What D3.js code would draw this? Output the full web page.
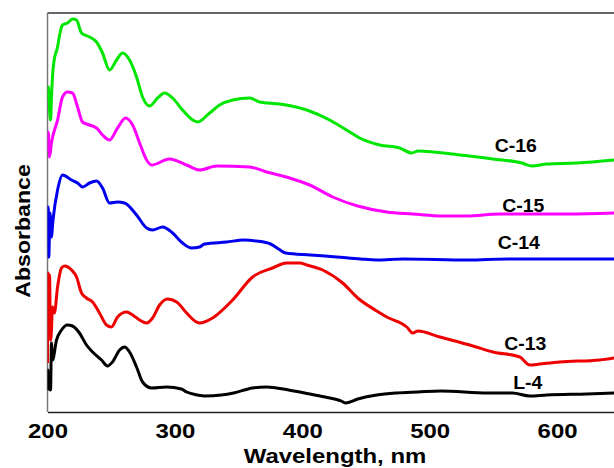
<!DOCTYPE html>
<html><head><meta charset="utf-8">
<script src="https://cdn.jsdelivr.net/npm/d3@7"></script>
<style>body{margin:0;background:#fff}svg{display:block}</style>
</head><body><svg id="c" width="614" height="468"></svg>
<script>
// ---- data ----
const xTicks = [200, 300, 400, 500, 600];
const seriesNames = ["C-16", "C-15", "C-14", "C-13", "L-4"];

const c16WL  = [200,200.8,201.6,202.4,203.2,203.9,205,207.9,209.5,211.8,215.7,219.6,222.8,226.7,233,238.5,243.2,248.7,254.2,258.9,264.4,269.9,274.6,280.1,286.4,291.9,298.2,306,313.9,317.8,327.3,335.1,345.3,358.7,366.5,382.2,403.5,421.5,437.2,445,460.8,476.5,486,490.7,523.6,549.6,572.4,580.2,592,615.6,645];
const c16Abs = [3.12,3.25,3.02,2.92,3.17,3.35,3.50,3.65,3.77,3.87,3.89,3.93,3.92,3.79,3.75,3.70,3.59,3.42,3.52,3.59,3.52,3.35,3.15,3.06,3.14,3.19,3.14,3.02,2.92,2.90,2.99,3.07,3.12,3.14,3.10,3.08,3.02,2.92,2.80,2.74,2.67,2.64,2.59,2.61,2.57,2.53,2.49,2.46,2.48,2.49,2.52];

const c15WL  = [200,200.6,201.6,203.1,207.9,211.8,215.7,219.6,223.6,227.5,233,238.5,243.2,248.7,255,261.3,266.8,272.3,277.8,281.7,295.8,309.2,319.4,332.8,358.7,372,390.1,405.8,423.9,443.5,466.3,486.7,510.3,529.1,555.1,581,607.7,645];
const c15Abs = [2.60,2.80,2.55,2.69,2.92,3.15,3.20,3.19,3.05,2.90,2.87,2.84,2.77,2.72,2.84,2.94,2.87,2.69,2.52,2.47,2.53,2.47,2.42,2.46,2.45,2.40,2.34,2.27,2.15,2.06,2.00,1.98,1.96,1.96,1.98,1.98,1.98,1.99];

const c14WL  = [200,200.5,201,202,203,204.3,207.9,211.8,218.9,223.6,227.5,233,238.5,243.2,248.7,255,260.5,269.9,277.8,282.5,290.3,298.2,306,313.1,319.4,323.3,340.6,354,364.2,375.1,381.4,386.9,406.5,426.9,445.7,458.3,479.5,530,561,645];
const c14Abs = [1.82,2.05,1.55,1.99,1.75,1.92,2.22,2.37,2.32,2.29,2.25,2.29,2.31,2.24,2.09,2.10,2.09,1.97,1.84,1.82,1.85,1.79,1.69,1.64,1.65,1.68,1.70,1.72,1.71,1.68,1.63,1.59,1.57,1.55,1.53,1.52,1.53,1.52,1.53,1.53];

const c13WL  = [200,200.4,201,201.6,202.4,203.1,203.9,205.4,207.9,211,213.4,218.9,222.8,226.7,230.6,235.4,240.8,246.3,250.2,255,262,266.8,272.3,277.8,282.5,288,294.3,301.4,309.2,317,319.4,329.6,345.3,361,376.7,387.7,398,403.5,416,431.7,443.5,458.5,466.3,482,486.7,490.7,508,534,549.6,570.8,578.6,586.4,602.1,633.5,645];
const c13Abs = [0.49,1.39,0.82,1.37,0.72,0.82,1.05,0.99,1.25,1.44,1.46,1.42,1.35,1.19,1.14,1.10,0.99,0.87,0.85,0.95,1.00,0.97,0.92,0.89,0.94,1.07,1.13,1.10,0.99,0.90,0.89,0.94,1.12,1.35,1.44,1.49,1.49,1.47,1.42,1.29,1.14,1.01,0.95,0.85,0.79,0.81,0.75,0.66,0.60,0.55,0.47,0.48,0.50,0.52,0.54];

const l4WL  = [200,200.3,200.8,202.4,203.1,203.9,207.1,211,215.7,219.6,225.1,230.6,235.4,242.4,247.1,251,256.6,260.5,264.4,269.9,274.6,281.7,293.5,305.2,309.2,317.8,323.3,336.6,346.1,361,372,389.3,402,418,430.6,433.8,443.5,458.5,474.3,490.7,508.7,545.6,565,578.6,592,623.4,645];
const l4Abs = [0.22,0.42,0.24,0.22,0.69,0.52,0.72,0.82,0.87,0.86,0.79,0.67,0.60,0.52,0.46,0.50,0.62,0.65,0.60,0.45,0.30,0.24,0.25,0.23,0.20,0.17,0.16,0.17,0.19,0.24,0.25,0.22,0.19,0.15,0.11,0.09,0.13,0.17,0.19,0.20,0.21,0.19,0.19,0.16,0.17,0.18,0.19];

// ---- layout / style ----
const colors = ["#00e600", "#ff00ff", "#0000ee", "#ee0000", "#000000"];
const labelAt = [[567.6, 2.60], [573.5, 2.00], [570, 1.63], [575.1, 0.62], [577, 0.23]];
const font = "Arial, 'Liberation Sans', sans-serif";

const svg = d3.select("#c");
const x = d3.scaleLinear().domain([200, 644.7]).range([47.5, 614]);
const y = d3.scaleLinear().domain([0, 3.99]).range([412, 13]);

const series = [
  [c16WL, c16Abs], [c15WL, c15Abs], [c14WL, c14Abs], [c13WL, c13Abs], [l4WL, l4Abs]
].map(([w, a], i) => ({ name: seriesNames[i], color: colors[i], pts: w.map((v, j) => [v, a[j]]) }));

svg.append("clipPath").attr("id", "clip").append("rect")
  .attr("x", 47.5).attr("y", 0).attr("width", 614 - 47.5).attr("height", 412);

const line = d3.line().x(d => x(d[0])).y(d => y(d[1])).curve(d3.curveMonotoneX);

// frame
svg.append("line").attr("x1", 47.5).attr("x2", 614).attr("y1", 13).attr("y2", 13)
  .attr("stroke", "#333").attr("stroke-width", 1.5);
svg.append("line").attr("x1", 47.5).attr("x2", 47.5).attr("y1", 13).attr("y2", 412)
  .attr("stroke", "#777").attr("stroke-width", 1.5);

svg.append("g").attr("clip-path", "url(#clip)")
  .selectAll("path").data(series).join("path")
  .attr("d", d => line(d.pts))
  .attr("fill", "none").attr("stroke", d => d.color)
  .attr("stroke-width", 3).attr("stroke-linejoin", "round");

// x axis
const xa = svg.append("g").attr("transform", "translate(0,412)")
  .call(d3.axisBottom(x).tickValues(xTicks).tickSize(0).tickPadding(11).tickFormat(d3.format("d")));
xa.select(".domain").attr("stroke", "#222").attr("stroke-width", 1.5);
xa.selectAll("text").attr("font-family", font).attr("font-weight", "bold")
  .attr("font-size", 21).attr("fill", "#000").attr("transform", "scale(1.14,1)");

// axis titles
svg.append("text").attr("transform", "translate(335,463) scale(1.14,1)")
  .attr("text-anchor", "middle").attr("font-family", font).attr("font-weight", "bold")
  .attr("font-size", 21).text("Wavelength, nm");
svg.append("text").attr("transform", "translate(30,231) rotate(-90) scale(1.1,1)")
  .attr("text-anchor", "middle").attr("font-family", font).attr("font-weight", "bold")
  .attr("font-size", 21).text("Absorbance");

// series labels
svg.selectAll("text.lab").data(series).join("text").attr("class", "lab")
  .attr("transform", (d, i) => `translate(${x(labelAt[i][0])},${y(labelAt[i][1])}) scale(1.08,1)`)
  .attr("text-anchor", "middle").attr("font-family", font).attr("font-weight", "bold")
  .attr("font-size", 18).text(d => d.name);
</script></body></html>
